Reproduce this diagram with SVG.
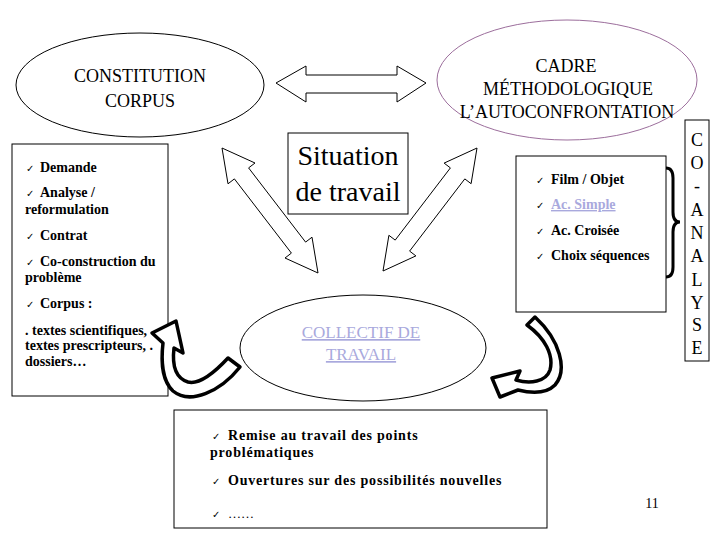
<svg xmlns="http://www.w3.org/2000/svg" width="720" height="540" viewBox="0 0 720 540">
<style>
.t{font-family:"Liberation Serif","Tinos","Times New Roman","DejaVu Serif",serif;fill:#000}
.b{font-weight:bold;font-size:14px}
.e{font-size:18px}
.ck{font-family:"DejaVu Sans",sans-serif;font-size:10px;fill:#000}
.box{fill:#fff;stroke:#000;stroke-width:1}
.arr{fill:#fff;stroke:#000;stroke-width:1}
.carr{fill:#fff;stroke:#000;stroke-width:3.5;stroke-linejoin:round}
.lav{fill:#a9a9dd;text-decoration:underline}
</style>
<rect width="720" height="540" fill="#fff"/>
<g id="constitution">
<ellipse cx="140" cy="85" rx="124" ry="52" fill="#fff" stroke="#000" stroke-width="1"/>
<text class="t e" x="140" y="82" text-anchor="middle">CONSTITUTION</text>
<text class="t e" x="140" y="107" text-anchor="middle">CORPUS</text>
</g>
<g id="cadre">
<ellipse cx="567" cy="80" rx="130" ry="60" fill="#fff" stroke="#9c6e9c" stroke-width="1"/>
<text class="t e" x="566" y="72" text-anchor="middle">CADRE</text>
<text class="t e" x="568" y="95" text-anchor="middle">MÉTHODOLOGIQUE</text>
<text class="t e" x="567" y="118" text-anchor="middle">L’AUTOCONFRONTATION</text>
</g>
<g id="situation">
<rect class="box" x="288" y="133" width="120" height="81"/>
<text class="t" x="348" y="165" font-size="28" text-anchor="middle">Situation</text>
<text class="t" x="348" y="201" font-size="28" text-anchor="middle">de travail</text>
</g>
<g id="leftbox">
<rect class="box" x="12" y="144" width="156" height="252"/>
<text class="ck" x="26" y="172">✓</text><text class="t b" x="40" y="172">Demande</text>
<text class="ck" x="26" y="197">✓</text><text class="t b" x="40" y="197">Analyse /</text>
<text class="t b" x="25" y="214">reformulation</text>
<text class="ck" x="26" y="240">✓</text><text class="t b" x="40" y="240">Contrat</text>
<text class="ck" x="26" y="266">✓</text><text class="t b" x="40" y="266">Co-construction du</text>
<text class="t b" x="25" y="282">problème</text>
<text class="ck" x="26" y="308">✓</text><text class="t b" x="40" y="308">Corpus :</text>
<text class="t b" x="25" y="335">. textes scientifiques,</text>
<text class="t b" x="25" y="350">textes prescripteurs, .</text>
<text class="t b" x="25" y="366">dossiers…</text>
</g>
<g id="rightbox">
<rect class="box" x="516" y="156" width="150" height="156"/>
<text class="ck" x="536" y="184">✓</text><text class="t b" x="551" y="184">Film / Objet</text>
<text class="ck" x="536" y="209">✓</text><text class="t b lav" x="551" y="209">Ac. Simple</text>
<text class="ck" x="536" y="235">✓</text><text class="t b" x="551" y="235">Ac. Croisée</text>
<text class="ck" x="536" y="260">✓</text><text class="t b" x="551" y="260">Choix séquences</text>
</g>
<g id="coanalyse">
<rect class="box" x="685" y="120" width="24" height="241"/>
<g class="t" font-size="18" text-anchor="middle">
<text x="697" y="146">C</text>
<text x="697" y="169">O</text>
<text x="697" y="192">-</text>
<text x="697" y="216">A</text>
<text x="697" y="239">N</text>
<text x="697" y="262">A</text>
<text x="697" y="286">L</text>
<text x="697" y="309">Y</text>
<text x="697" y="331">S</text>
<text x="697" y="354">E</text>
</g>
</g>
<g id="collectif">
<ellipse cx="363" cy="348" rx="123" ry="53" fill="#fff" stroke="#000" stroke-width="1"/>
<text class="t lav" x="361" y="338" font-size="17" text-anchor="middle">COLLECTIF DE</text>
<text class="t lav" x="361" y="360" font-size="17" text-anchor="middle">TRAVAIL</text>
</g>
<g id="bottombox">
<rect class="box" x="174" y="410" width="373" height="118"/>
<text class="ck" x="212" y="440">✓</text><text class="t b" x="228" y="440" letter-spacing="0.8">Remise au travail des points</text>
<text class="t b" x="210" y="457" letter-spacing="0.8">problématiques</text>
<text class="ck" x="212" y="485">✓</text><text class="t b" x="228" y="485" letter-spacing="0.8">Ouvertures sur des possibilités nouvelles</text>
<text class="ck" x="212" y="518">✓</text><text class="t" x="228" y="518" font-size="13">……</text>
</g>
<g id="pagenum">
<text class="t" x="652" y="508" font-size="14" text-anchor="middle">11</text>
</g>
<g id="connectors">
<polygon class="arr" points="276,83 306,66 306,75 397,75 397,66 426,83 397,102 397,93 306,93 306,102"/>
<polygon class="arr" points="222,148 255,163 248.6,167.9 305.6,242.1 312,237.2 318,273 285,258 291.4,253.1 234.4,178.9 228,183.8"/>
<polygon class="arr" points="477,148 471.1,183.7 464.8,178.9 409.6,251.1 415.9,255.9 383,271 388.9,235.3 395.2,240.1 450.4,167.9 444.1,163.1"/>
<path class="carr" d="M 228 358 L 240 367 C 220 392 190 405 173 391 C 162 381 161 360 163 343 L 152 333 L 176 321 L 183 353 L 174 348 C 172 365 175 378 188 382 C 200 385 215 372 228 358 Z"/>
<path class="carr" d="M 527 325 L 535 317 C 560 340 568 370 555 385 C 545 395 530 393 518 390 L 500 397 L 492 378 L 520 371 L 516 380 C 530 384 546 382 550 370 C 554 355 545 338 527 325 Z"/>
<path d="M 666 168 Q 673 168 673 178 L 673 212 Q 673 222 680 222 Q 673 222 673 232 L 673 267 Q 673 277 666 277" fill="none" stroke="#000" stroke-width="3"/>
</g>
</svg>
